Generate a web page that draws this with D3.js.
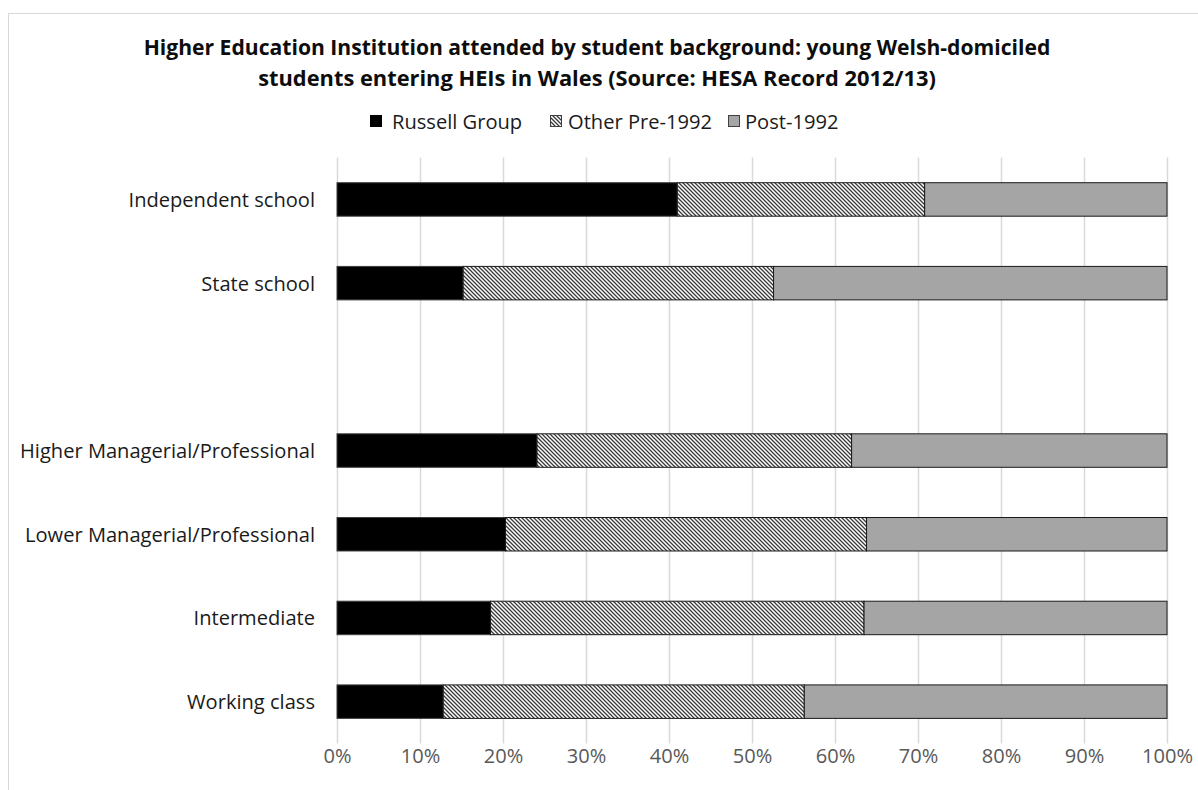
<!DOCTYPE html>
<html><head><meta charset="utf-8">
<script src="https://cdn.jsdelivr.net/npm/d3@7"></script>
<style>body{margin:0;background:#fff}svg{display:block}text{font-family:"Open Sans",Lato,sans-serif}</style>
</head><body>
<svg id="c" width="1198" height="790"></svg>
<script>
const categories = ["Independent school","State school","","Higher Managerial/Professional","Lower Managerial/Professional","Intermediate","Working class"];
const seriesNames = ["Russell Group","Other Pre-1992","Post-1992"];
const russellGroup = [41.0, 15.2, null, 24.1, 20.3, 18.5, 12.8];
const otherPre1992 = [29.8, 37.4, null, 37.9, 43.5, 45.0, 43.5];
const post1992     = [29.2, 47.4, null, 38.0, 36.2, 36.5, 43.7];
const tickValues = [0,10,20,30,40,50,60,70,80,90,100];
const titleLines = ["Higher Education Institution attended by student background: young Welsh-domiciled","students entering HEIs in Wales (Source: HESA Record 2012/13)"];

const svg = d3.select("#c");
const defs = svg.append("defs");
const pat = defs.append("pattern").attr("id","hatch").attr("patternUnits","userSpaceOnUse")
  .attr("width",4).attr("height",4);
pat.append("rect").attr("width",4).attr("height",4).attr("fill","#fff");
pat.append("path").attr("d","M-1,-1 L5,5 M-1,3 L1,5 M3,-1 L5,1").attr("stroke","#3a3a3a").attr("stroke-width",1.3);

function fitSize(texts, target){ // scale font so widest node equals target
  let maxW=0; texts.each(function(){ maxW=Math.max(maxW,this.getComputedTextLength()); });
  const fs=parseFloat(texts.attr("font-size"));
  texts.attr("font-size",(fs*target/maxW).toFixed(2)+"px");
}

// frame
svg.append("rect").attr("x",8.5).attr("y",13.5).attr("width",1200).attr("height",800)
  .attr("fill","none").attr("stroke","#d9d9d9");

const x = d3.scaleLinear().domain([0,100]).range([337,1167]);
const y = d3.scaleBand().domain(categories).range([157.6,743.5]).paddingInner(0.6).paddingOuter(0.3);

// gridlines
svg.append("g").selectAll("line").data(tickValues).join("line")
  .attr("x1",d=>Math.round(x(d))+0.5).attr("x2",d=>Math.round(x(d))+0.5)
  .attr("y1",157.6).attr("y2",743.5).attr("stroke","#d9d9d9").attr("stroke-width",1.5);

// axis
const ax = svg.append("g").attr("transform","translate(0,743.5)")
  .call(d3.axisBottom(x).tickValues(tickValues).tickFormat(d=>d+"%").tickSize(0).tickPadding(5));
ax.select(".domain").remove();
const tt = ax.selectAll("text").attr("font-size","18px").attr("fill","#595959").attr("font-family","'Open Sans',Lato,sans-serif")
  .attr("dy","0.71em");
fitSize(tt, 51);

const rows = categories.map((c,i)=>({cat:c, r:russellGroup[i], o:otherPre1992[i], p:post1992[i]})).filter(d=>d.cat!=="");
const stack = d3.stack().keys(["r","o","p"])(rows);
const fills = ["#000000","url(#hatch)","#a5a5a5"];
const strokes = ["#3f3f3f","#1a1a1a","#1a1a1a"];
stack.forEach((s,si)=>{
  svg.append("g").selectAll("rect").data(s).join("rect")
    .attr("x",d=>x(d[0])).attr("width",d=>x(d[1])-x(d[0]))
    .attr("y",d=>y(d.data.cat)).attr("height",y.bandwidth())
    .attr("fill",fills[si]).attr("stroke",strokes[si]).attr("stroke-width",1);
});

// category labels
const cl = svg.append("g").selectAll("text").data(categories.filter(c=>c!=="")).join("text")
  .attr("x",315).attr("y",d=>y(d)+y.bandwidth()/2).attr("text-anchor","end")
  .attr("dominant-baseline","central").attr("font-size","18px").attr("fill","#1a1a1a").text(d=>d);
fitSize(cl, 295);

// title
const t1 = svg.append("text").attr("x",597).attr("y",46).attr("text-anchor","middle").attr("dominant-baseline","central")
  .attr("font-weight","bold").attr("font-size","18px").attr("fill","#0d0d0d").text(titleLines[0]);
fitSize(t1, 907);
const t2 = svg.append("text").attr("x",597).attr("y",77).attr("text-anchor","middle").attr("dominant-baseline","central")
  .attr("font-weight","bold").attr("font-size","18px").attr("fill","#0d0d0d").text(titleLines[1]);
fitSize(t2, 678);

// legend
const legX = [370, 550, 728];
const leg = svg.append("g").selectAll("g").data(seriesNames).join("g")
  .attr("transform",(d,i)=>`translate(${legX[i]},121)`);
leg.append("rect").attr("x",0.5).attr("y",-5.5).attr("width",11).attr("height",11)
  .attr("fill",(d,i)=>fills[i]).attr("stroke",(d,i)=>i===0?"#000":"#404040");
const lt = leg.append("text").attr("x",(d,i)=>[22,18,17][i]).attr("y",0).attr("dominant-baseline","central")
  .attr("font-size","18px").attr("fill","#1a1a1a").text(d=>d);
fitSize(lt.filter((d,i)=>i===1), 144);
lt.attr("font-size", lt.filter((d,i)=>i===1).attr("font-size"));
</script>
</body></html>
